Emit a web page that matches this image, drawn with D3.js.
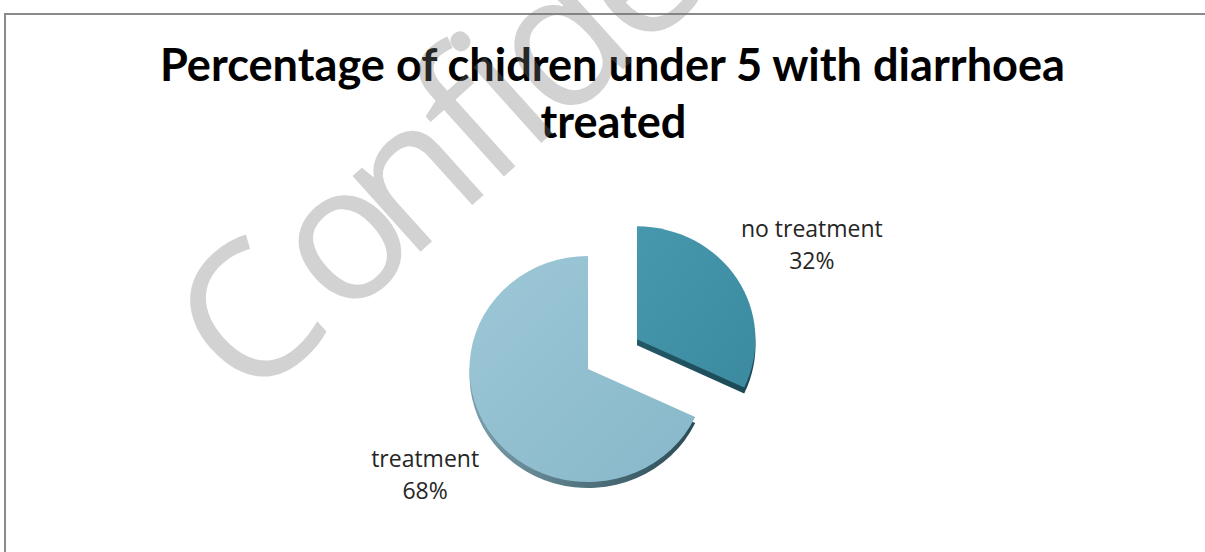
<!DOCTYPE html>
<html><head><meta charset="utf-8">
<script src="https://cdn.jsdelivr.net/npm/d3@7"></script>
<style>body{margin:0;background:#fff;overflow:hidden}</style>
</head><body><svg id="c" width="1205" height="552"></svg>
<script>
// ---- data ----
const categories = ["no treatment", "treatment"];
const values = [32, 68];
const percentLabels = ["32%", "68%"];
const exploded = [true, false];
const titleLines = ["Percentage of chidren under 5 with diarrhoea", "treated"];
const watermarkText = "Confidential";

// ---- layout ----
const W = 1205, H = 552;
const cx = 588, cy = 369, rx = 118.5, ry = 113, depth = 6, explodeDist = 58;
const k = ry / rx;

const svg = d3.select("#c");
svg.append("rect").attr("width", W).attr("height", H).attr("fill", "#fff");
svg.append("rect").attr("x", 5).attr("y", 14).attr("width", W + 20).attr("height", H + 20)
  .attr("fill", "none").attr("stroke", "#8a8a8a").attr("stroke-width", 2);

const defs = svg.append("defs");
const topCols = [["#4898ad", "#3b8aa0"], ["#9dc7d7", "#87b8c9"]];
const sideCols = [["#245866", "#1c4855"], ["#7a9eab", "#2b4b55"]];
function grad(id, c, x2, y2) {
  const g = defs.append("linearGradient").attr("id", id)
    .attr("x1", 0).attr("y1", 0).attr("x2", x2).attr("y2", y2);
  g.append("stop").attr("offset", "0%").attr("stop-color", c[0]);
  g.append("stop").attr("offset", "100%").attr("stop-color", c[1]);
}
topCols.forEach((c, i) => grad("top" + i, c, 1, 1));
sideCols.forEach((c, i) => grad("side" + i, c, 1, 0));

// ---- title ----
const title = svg.append("g").attr("font-family", "Lato, 'Open Sans', sans-serif")
  .attr("font-weight", 700).attr("font-size", 45).attr("fill", "#000").attr("text-anchor", "middle");
const t1 = title.append("text").attr("x", 612.5).attr("y", 81).text(titleLines[0]);
const t2 = title.append("text").attr("x", 613.5).attr("y", 138).text(titleLines[1]);
const nat1 = t1.node().getComputedTextLength();
const ratio = 905 / nat1;
t1.attr("textLength", 905).attr("lengthAdjust", "spacingAndGlyphs");
t2.attr("textLength", t2.node().getComputedTextLength() * ratio).attr("lengthAdjust", "spacingAndGlyphs");

// ---- pie ----
const pie = d3.pie().sort(null).value(d => d.value).startAngle(0).endAngle(2 * Math.PI);
const data = pie(categories.map((c, i) => ({ cat: c, value: values[i], pct: percentLabels[i], ex: exploded[i], i })));
const arc = d3.arc().innerRadius(0).outerRadius(rx);
const labelArc = d3.arc().innerRadius(200).outerRadius(200);

data.forEach(d => {
  const mid = (d.startAngle + d.endAngle) / 2;
  const e = d.data.ex ? explodeDist : 0;
  d.ox = cx + e * Math.sin(mid);
  d.oy = cy - e * Math.cos(mid) * k;
});

const pg = svg.append("g");
data.forEach(d => {
  pg.append("g").attr("transform", `translate(${d.ox},${d.oy + depth}) scale(1,${k})`)
    .append("path").attr("d", arc(d)).attr("fill", `url(#side${d.data.i})`);
});
data.forEach(d => {
  pg.append("g").attr("transform", `translate(${d.ox},${d.oy}) scale(1,${k})`)
    .append("path").attr("d", arc(d)).attr("fill", `url(#top${d.data.i})`);
});

// ---- labels ----
const lg = svg.append("g").attr("font-family", "'Open Sans', sans-serif").attr("font-size", 23)
  .attr("fill", "#262626").attr("text-anchor", "middle");
data.forEach(d => {
  const [lx, ly] = labelArc.centroid(d);
  const x = d.ox + lx + 6, y = d.oy + ly * 0.935;
  lg.append("text").attr("x", x).attr("y", y - 2).text(d.data.cat);
  lg.append("text").attr("x", x).attr("y", y + 30).text(d.data.pct);
});

// ---- watermark ----
svg.append("text").attr("transform", "translate(248,407) rotate(-42)")
  .attr("font-family", "'Open Sans', sans-serif").attr("font-size", 190)
  .attr("letter-spacing", -9).attr("dx", "0 15 -15")
  .attr("fill", "#777").attr("fill-opacity", 0.33).text(watermarkText);
</script></body></html>
